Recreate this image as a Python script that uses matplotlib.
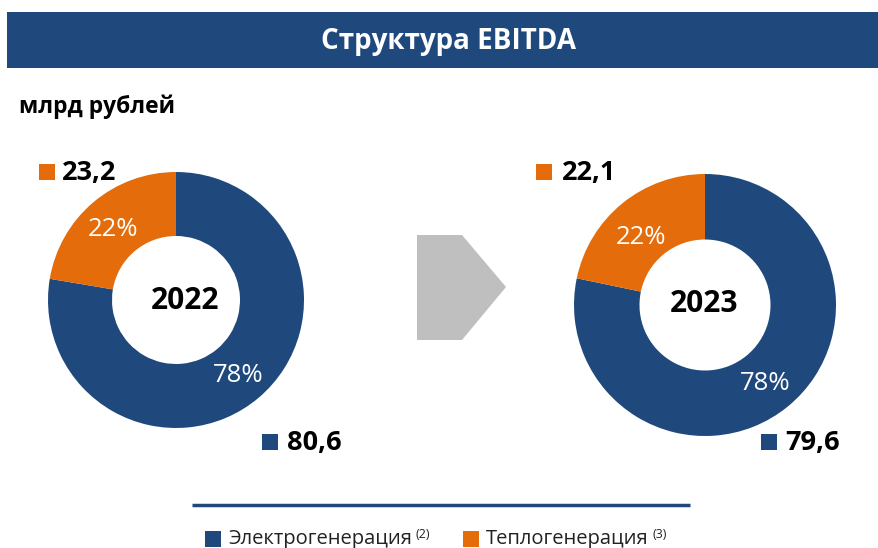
import matplotlib
matplotlib.use("Agg")
import matplotlib.pyplot as plt
from matplotlib.patches import Rectangle, Polygon

# ---- data ----
years = ["2022", "2023"]
categories = ["Электрогенерация", "Теплогенерация"]
footnotes = ["(2)", "(3)"]
electro = [80.6, 79.6]
heat = [23.2, 22.1]
title = "Структура EBITDA"
unit = "млрд рублей"

BLUE = "#1f497d"
ORANGE = "#e46c0a"
GREY = "#bfbfbf"
FONT = "Open Sans"

W, H = 879, 548
fig = plt.figure(figsize=(W / 100, H / 100), dpi=100)
ax = fig.add_axes([0, 0, 1, 1])

def Y(y):
    return H - y

# donuts
centers = [(176, 300), (705, 305)]
radii = [128, 131]
pct_offs = [[(62, 76), (-63, -71)], [(60, 79), (-64, -68)]]
year_pos = [(185, 300), (704, 303)]
for i in range(2):
    cx, cy = centers[i]
    r = radii[i]
    vals = [electro[i], heat[i]]
    total = sum(vals)
    ax.pie(vals, colors=[BLUE, ORANGE], startangle=90, counterclock=False,
           radius=r, center=(cx, Y(cy)),
           wedgeprops=dict(width=r * 0.5, edgecolor="none", linewidth=0),
           frame=True)
    pct = [round(v / total * 100) for v in vals]
    for k in range(2):
        dx, dy = pct_offs[i][k]
        ax.text(cx + dx, Y(cy + dy), f"{pct[k]}%", color="white",
                fontsize=18.5, family=FONT, ha="center", va="center")
    yx, yy = year_pos[i]
    ax.text(yx, Y(yy + 1), years[i], fontsize=21.5, fontweight="bold",
            family=FONT, ha="center", va="center", color="black")

# value labels with squares
val_pos = [
    [(270, 442, 287), (47, 172, 62)],
    [(769, 442, 785), (544, 172, 562)],
]
for i in range(2):
    vals = [electro[i], heat[i]]
    cols = [BLUE, ORANGE]
    for k in range(2):
        sx, sy, tx = val_pos[i][k]
        ax.add_patch(Rectangle((sx - 8, Y(sy) - 8), 16, 16, color=cols[k], lw=0))
        ax.text(tx, Y(sy + 1), f"{vals[k]:.1f}".replace(".", ","), fontsize=19.5,
                fontweight="bold", family=FONT, ha="left", va="center", color="black")

# title bar
ax.add_patch(Rectangle((7, Y(68)), W - 7, 56, color=BLUE, lw=0))
ax.text(449, Y(42), title, color="white", fontsize=20, fontweight="bold",
        family=FONT, ha="center", va="center")
ax.text(19, Y(107), unit, color="black", fontsize=16.5, fontweight="bold",
        family=FONT, ha="left", va="center")

# arrow
ax.add_patch(Polygon([(417, Y(235)), (462, Y(235)), (506, Y(287)),
                      (462, Y(340)), (417, Y(340))], closed=True,
                     color=GREY, lw=0))

# legend line
ax.plot([192, 690], [Y(505), Y(505)], color=BLUE, lw=2.5, solid_capstyle="butt")

ax.set_xlim(0, W)
ax.set_ylim(0, H)
ax.set_aspect("auto")
ax.axis("off")

# legend
leg = [(213, 228), (471, 486)]
cols = [BLUE, ORANGE]
renderer = fig.canvas.get_renderer()
for k in range(2):
    sx, tx = leg[k]
    ax.add_patch(Rectangle((sx - 8, Y(539) - 8), 16, 16, color=cols[k], lw=0))
    t = ax.text(tx, Y(539), categories[k], fontsize=14.5, family=FONT,
                ha="left", va="center", color="#222222")
    bb = t.get_window_extent(renderer=renderer)
    ax.text(bb.x1 + 4, Y(535), footnotes[k], fontsize=9, family=FONT,
            ha="left", va="center", color="#222222")

fig.savefig("out.png", dpi=100)
